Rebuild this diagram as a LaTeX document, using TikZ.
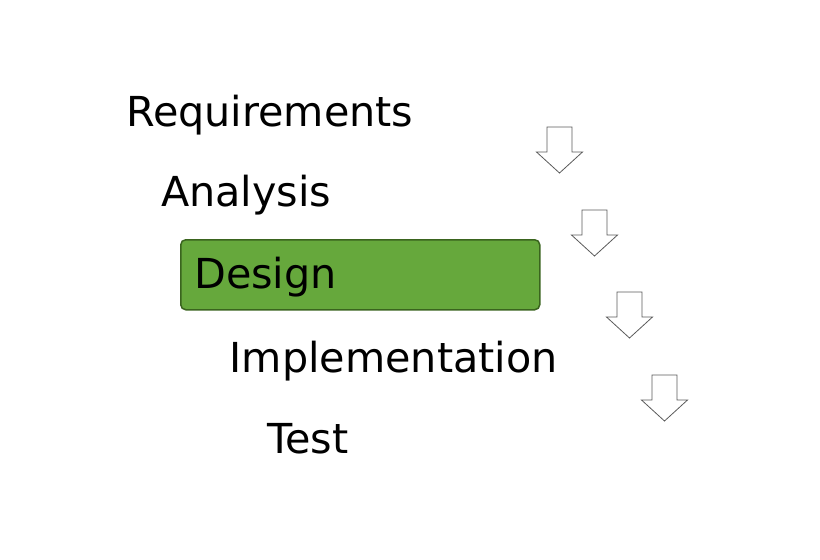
\documentclass[tikz,border=0pt]{standalone}
\usepackage{fontspec}
\setmainfont{DejaVu Sans}
\usetikzlibrary{calc}
\definecolor{boxfill}{RGB}{102,168,60}
\definecolor{boxline}{RGB}{58,100,30}
\definecolor{arrowline}{RGB}{90,90,90}
\tikzset{
  lbl/.style={anchor=base west, inner sep=0pt, font=\fontsize{41.3}{48}\selectfont, text=black},
  greenbox/.style={anchor=north west, draw=boxline, line width=1.5pt, fill=boxfill, rounded corners=5pt, minimum width=359pt, minimum height=70pt, inner sep=0pt},
  blockarrow/.style={draw=arrowline, fill=white, line width=0.8pt, line join=miter}
}
\begin{document}
\begin{tikzpicture}[x=1pt, y=-1pt]
\useasboundingbox (0,0) rectangle (820,560);
\node[greenbox] (designbox) at (180,239) {};
\node[lbl] (req) at (126,126) {Requirements};
\node[lbl] (ana) at (161,206.5) {Analysis};
\node[lbl] (des) at (194,288) {Design};
\node[lbl] (imp) at (229.5,372) {Implementation};
\node[lbl] (tst) at (267,453) {Test};
\coordinate (a1) at (559.5,127);
\coordinate (a2) at (594.5,210);
\coordinate (a3) at (629.5,292);
\coordinate (a4) at (664.5,375);
\foreach \c in {a1,a2,a3,a4}{
  \draw[blockarrow] ($(\c)+(-12.5,0)$) -- ++(25,0) -- ++(0,25) -- ++(10.5,0) -- ++(-23,21) -- ++(-23,-21) -- ++(10.5,0) -- cycle;
}
\end{tikzpicture}
\end{document}
